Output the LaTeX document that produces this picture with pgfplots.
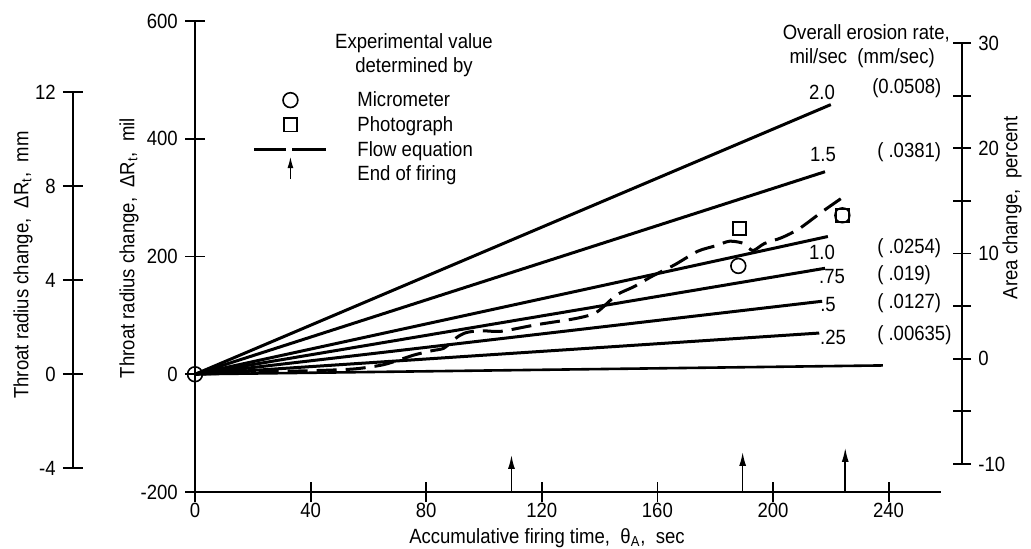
\documentclass[border=0pt]{standalone}
\usepackage{fontspec}
\setmainfont{Liberation Sans}[FakeStretch=0.9]
\usepackage{pgfplots}
\pgfplotsset{compat=1.18}
\usetikzlibrary{arrows.meta}

\newcommand{\fs}{\fontsize{10.3}{12.4}\selectfont}

\pgfplotsset{
  every axis/.append style={font=\fs},
  axstyle/.style={
    scale only axis,
    tick align=inside,
    major tick length=10pt,
    minor tick length=9pt,
    tick style={black, line width=0.9pt},
    clip=false,
  },
  nolinearrows/.style={
    axis line style={-, line width=0.9pt},
    every outer x axis line/.append style={-},
    every outer y axis line/.append style={-},
    every inner x axis line/.append style={-},
    every inner y axis line/.append style={-},
  },
}

\begin{document}
\fs
\begin{tikzpicture}
\useasboundingbox (0,0) rectangle (515.5pt,274pt);

% left scale in mm
\begin{axis}[axstyle,
  at={(36.5pt,40pt)}, anchor=south west,
  width=0.1pt, height=188pt,
  xmin=0, xmax=1, ymin=-4, ymax=12,
  axis x line=none, axis y line=left, nolinearrows,
  ytick={-4,0,4,8,12}, yticklabels={-4,0,4,8,12},
]
\end{axis}

% right scale, area change in percent
\begin{axis}[axstyle,
  at={(481pt,42pt)}, anchor=south east,
  width=0.1pt, height=210.5pt,
  xmin=0, xmax=1, ymin=-10, ymax=30,
  axis x line=none, axis y line=right, nolinearrows,
  ytick={-10,0,10,20,30}, yticklabels={-10,0,10,20,30},
  minor ytick={-5,5,15,25},
  major tick length=9pt,
]
\end{axis}

% main axis
\begin{axis}[axstyle,
  at={(97.5pt,28pt)}, anchor=south west,
  width=372.8pt, height=235.5pt,
  xmin=0, xmax=258, ymin=-200, ymax=600,
  axis x line=bottom, axis y line=left, nolinearrows,
  xtick={0,40,80,120,160,200,240}, xticklabels={0,40,80,120,160,200,240},
  ytick={-200,0,200,400,600}, yticklabels={-200,0,200,400,600},
  xticklabel style={yshift=3pt},
  legend cell align=left,
  legend style={at={(0.0738,0.8527)}, anchor=north west, draw=none, fill=none,
    inner sep=0pt, row sep=0pt, column sep=13.5pt,
    nodes={inner sep=0pt, text height=8pt, text depth=4.35pt}},
]
% constant erosion rate lines, mil/sec
\addplot[line width=1.5pt, forget plot] coordinates {(0,0) (220,458)};
\addplot[line width=1.5pt, forget plot] coordinates {(0,0) (218,344)};
\addplot[line width=1.5pt, forget plot] coordinates {(0,0) (219,234)};
\addplot[line width=1.5pt, forget plot] coordinates {(0,0) (218,180)};
\addplot[line width=1.5pt, forget plot] coordinates {(0,0) (217,124)};
\addplot[line width=1.5pt, forget plot] coordinates {(0,0) (216,70)};
\addplot[line width=1.3pt, forget plot] coordinates {(0,0) (238,15)};

% flow equation
\addplot[line width=1.5pt, dash pattern=on 10pt off 4.5pt, smooth, tension=0.45, forget plot]
  coordinates {(2,0) (20,4) (40,6) (55,9) (65,16) (71,25) (76,33) (82,40) (86,44)
    (89,56) (91,64) (94,71) (99,74) (106,73) (118,84) (131,94) (137,101) (140,109)
    (146,135) (152,149) (158,166) (166,186) (174,209) (180,218) (185,226) (190,222)
    (193,210) (197,222) (203,232) (209,247) (217,276) (224,300)};

% micrometer
\addplot[only marks, mark=o, mark size=3.7pt, mark options={line width=0.8pt}, forget plot]
  coordinates {(0,0) (188,184) (224,270)};
% photograph
\addplot[only marks, mark=square, mark size=3.3pt, mark options={line width=0.9pt}, forget plot]
  coordinates {(188.5,248) (224,270)};

% end of firing
\addplot[line width=0.8pt, -{Latex[length=7pt,width=3.5pt]}, forget plot] coordinates {(109.5,-200) (109.5,-137)};
\addplot[line width=0.8pt, -{Latex[length=7pt,width=3.5pt]}, forget plot] coordinates {(189.5,-200) (189.5,-132)};
\addplot[line width=0.8pt, -{Latex[length=7pt,width=3.5pt]}, forget plot] coordinates {(225,-200) (225,-125)};

% legend
\addlegendimage{legend image code/.code={\path[draw=none] (0pt,-4pt) rectangle (40pt,4pt);
  \draw[line width=0.8pt] (20pt,1.5pt) circle (3.7pt);}}
\addlegendentry{Micrometer}
\addlegendimage{legend image code/.code={\path[draw=none] (0pt,-4pt) rectangle (40pt,4pt);
  \draw[line width=0.8pt] (16.7pt,-1.8pt) rectangle (23.3pt,4.8pt);}}
\addlegendentry{Photograph}
\addlegendimage{legend image code/.code={\path[draw=none] (0pt,-4pt) rectangle (40pt,4pt);
  \draw[line width=1.5pt] (2pt,1.5pt) -- (18pt,1.5pt) (21pt,1.5pt) -- (38pt,1.5pt);}}
\addlegendentry{Flow equation}
\addlegendimage{legend image code/.code={\path[draw=none] (0pt,-4pt) rectangle (40pt,4pt);
  \draw[overlay, line width=0.8pt, -{Latex[length=6pt,width=3pt]}] (20pt,-1pt) -- (20pt,10.5pt);}}
\addlegendentry{End of firing}
\end{axis}

% axis titles
\node[rotate=90] at (11.5pt,141.5pt) {Throat radius change,\ \ ΔR\textsubscript{t},\ \ mm};
\node[rotate=90] at (64.5pt,150pt) {Throat radius change,\ \ ΔR\textsubscript{t},\ \ mil};
\node at (273.5pt,5pt) {Accumulative firing time,\ \ θ\textsubscript{A},\ \ sec};
\node[rotate=90] at (506pt,170pt) {Area change,\ \ percent};

% legend heading
\node at (207pt,252.5pt) {Experimental value};
\node at (207pt,240.5pt) {determined by};

% rate labels
\node[anchor=east] at (478.5pt,257.5pt) {Overall erosion rate,};
\node[anchor=east] at (471pt,245pt) {mil/sec\ \ (mm/sec)};
\node at (411pt,228pt) {2.0};
\node[anchor=west] at (432.5pt,230pt) {(0.0508)};
\node at (411.5pt,196.5pt) {1.5};
\node[anchor=west] at (435pt,198pt) {( .0381)};
\node at (411pt,148pt) {1.0};
\node[anchor=west] at (435pt,150pt) {( .0254)};
\node at (416pt,135.5pt) {.75};
\node[anchor=west] at (435pt,136.5pt) {( .019)};
\node at (414pt,121.5pt) {.5};
\node[anchor=west] at (435pt,122.5pt) {( .0127)};
\node at (416.5pt,105.5pt) {.25};
\node[anchor=west] at (435pt,106.5pt) {( .00635)};
\end{tikzpicture}
\end{document}
